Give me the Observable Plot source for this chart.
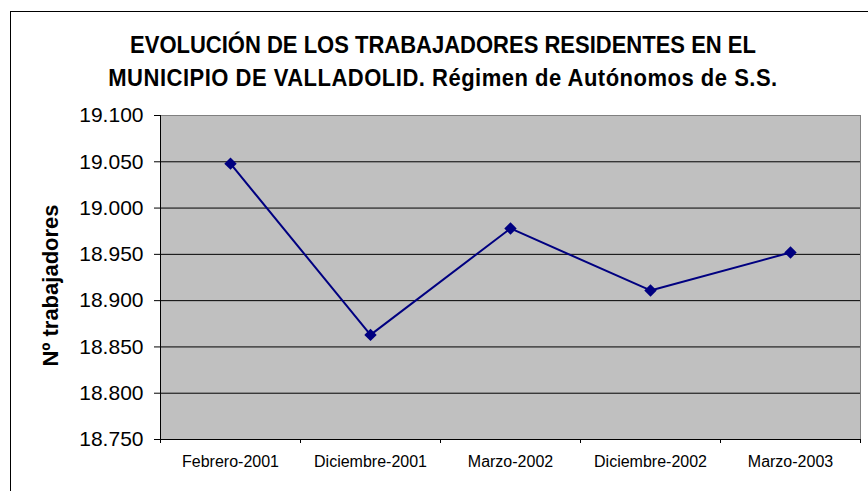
<!DOCTYPE html>
<html><head><meta charset="utf-8">
<script src="https://cdn.jsdelivr.net/npm/d3@7"></script>
<script src="https://cdn.jsdelivr.net/npm/@observablehq/plot@0.6"></script>
<style>
html,body{margin:0;padding:0;background:#fff;overflow:hidden;width:868px;height:491px;}
#wrap{position:relative;width:868px;height:491px;font-family:"Liberation Sans",Arial,sans-serif;}
#border{position:absolute;left:10px;top:11px;width:900px;height:600px;border-left:1px solid #000;border-top:1px solid #000;}
#title{position:absolute;left:8px;top:28px;width:870px;text-align:center;font-weight:bold;font-size:22px;line-height:31px;color:#000;transform:scaleY(1.07);transform-origin:50% 0;}
#title .l2{letter-spacing:0.5px;}
#chart{position:absolute;left:0;top:0;}
</style></head><body>
<div id="wrap"><div id="border"></div><div id="chart"></div>
<div id="title">EVOLUCIÓN DE LOS TRABAJADORES RESIDENTES EN EL<br><span class="l2">MUNICIPIO DE VALLADOLID. Régimen de Autónomos de S.S.</span></div></div>
<script>
const categories = ["Febrero-2001", "Diciembre-2001", "Marzo-2002", "Diciembre-2002", "Marzo-2003"];
const values = [19048, 18863, 18978, 18911, 18952];
const yTicks = [18750, 18800, 18850, 18900, 18950, 19000, 19050, 19100];
const yLabel = "Nº trabajadores";

const data = categories.map((c, i) => ({i: i + 0.5, cat: c, v: values[i]}));
const boundaries = d3.range(categories.length + 1);
const centers = categories.map((c, i) => i + 0.5);
const es = d3.formatLocale({decimal: ",", thousands: ".", grouping: [3]}).format(",d");

const chart = Plot.plot({
  width: 868,
  height: 491,
  marginLeft: 160,
  marginRight: 8,
  marginTop: 115,
  marginBottom: 52,
  style: {fontFamily: "'Liberation Sans', Arial, sans-serif", color: "#000", background: "transparent", overflow: "visible"},
  x: {type: "linear", domain: [0, categories.length], axis: null},
  y: {domain: [18750, 19100], axis: null},
  marks: [
    Plot.frame({fill: "#c0c0c0", stroke: "#808080"}),
    Plot.ruleY(yTicks.slice(1, -1), {stroke: "#000", strokeWidth: 1}),
    Plot.ruleY([18750], {stroke: "#000", strokeWidth: 1}),
    Plot.ruleX([0], {stroke: "#000", strokeWidth: 1}),
    Plot.axisY({ticks: yTicks, tickFormat: es, tickSize: 6, tickPadding: 11, fontSize: 21, stroke: "#000", label: null}),
    Plot.axisX({ticks: boundaries, tickFormat: () => "", tickSize: 4, stroke: "#000", label: null}),
    Plot.axisX({ticks: centers, tickFormat: d => categories[Math.floor(d)], tickSize: 0, tickPadding: 16, fontSize: 16, label: null}),
    Plot.line(data, {x: "i", y: "v", stroke: "#000080", strokeWidth: 2}),
    Plot.dot(data, {x: "i", y: "v", symbol: "diamond2", r: 5.6, fill: "#000080", stroke: "none"}),
    Plot.text([yLabel], {frameAnchor: "left", textAnchor: "middle", rotate: -90, dx: -110, dy: 8, fontSize: 22, fontWeight: "bold", fill: "#000"})
  ]
});
document.getElementById("chart").appendChild(chart);
</script>
</body></html>
